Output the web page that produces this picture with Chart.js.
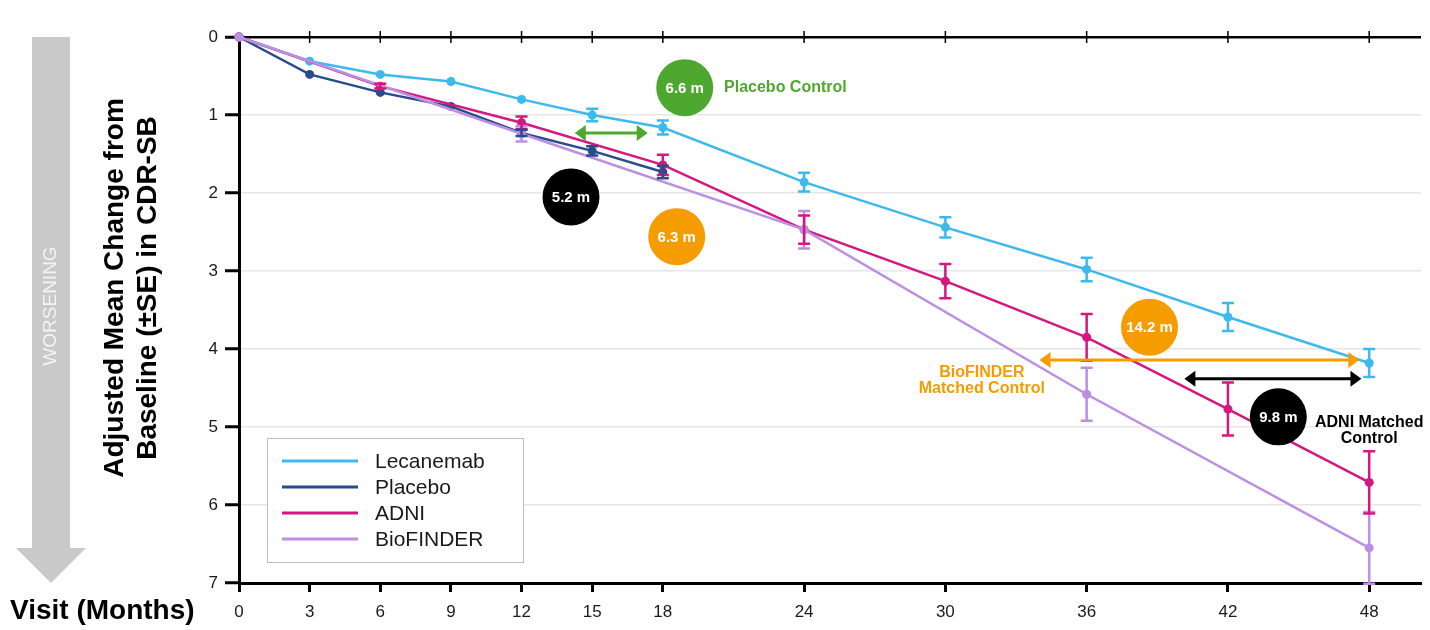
<!DOCTYPE html>
<html>
<head>
<title>CDR-SB change from baseline</title>
<script src="https://cdn.jsdelivr.net/npm/chart.js"></script>
<style>
  html, body { margin: 0; padding: 0; background: #fff; }
  #wrap { width: 1430px; height: 630px; }
</style>
</head>
<body>
<div id="wrap"><canvas id="c"></canvas></div>
<script>
// x ticks (months) and y ticks
var xTicks = [0, 3, 6, 9, 12, 15, 18, 24, 30, 36, 42, 48];
var yTicks = [0, 1, 2, 3, 4, 5, 6, 7];

// series: months, mean change, SE
var lecMonths = [0, 3, 6, 9, 12, 15, 18, 24, 30, 36, 42, 48];
var lecMean   = [0, 0.31, 0.48, 0.57, 0.80, 1.00, 1.16, 1.86, 2.44, 2.98, 3.59, 4.18];
var lecSE     = [0, 0, 0, 0, 0, 0.08, 0.09, 0.12, 0.13, 0.15, 0.18, 0.18];

var plbMonths = [0, 3, 6, 9, 12, 15, 18];
var plbMean   = [0, 0.48, 0.71, 0.89, 1.23, 1.46, 1.73];
var plbSE     = [0, 0, 0, 0, 0.04, 0.06, 0.08];

var adniMonths = [0, 6, 12, 18, 24, 30, 36, 42, 48];
var adniMean   = [0, 0.63, 1.10, 1.64, 2.47, 3.13, 3.85, 4.77, 5.71];
var adniSE     = [0, 0.03, 0.08, 0.13, 0.18, 0.22, 0.30, 0.34, 0.40];

var bioMonths = [0, 12, 24, 36, 48];
var bioMean   = [0, 1.24, 2.47, 4.58, 6.55];
var bioSE     = [0, 0.10, 0.24, 0.34, 0.46];

// delay annotations
var badgeLabels = ['6.6 m', '5.2 m', '6.3 m', '14.2 m', '9.8 m'];
var badgeMonth  = [18.93, 14.1, 18.59, 38.67, 44.14];
var badgeValue  = [0.65, 2.05, 2.56, 3.72, 4.87];

var FONT = 'Arial, "Liberation Sans", sans-serif';
var GREEN = '#4EA72E', ORANGE = '#F59C00', BLACK = '#000000';

function pts(xs, ys) {
  return xs.map(function (x, i) { return { x: x, y: ys[i] }; });
}

function series(label, xs, ys, se, color) {
  return {
    label: label,
    data: pts(xs, ys),
    se: se,
    borderColor: color,
    backgroundColor: color,
    borderWidth: 2.5,
    pointRadius: 4.5,
    pointHoverRadius: 4.5,
    pointBorderWidth: 0,
    tension: 0,
    clip: false
  };
}

var datasets = [
  series('BioFINDER', bioMonths, bioMean, bioSE, '#BB8FE3'),
  series('ADNI', adniMonths, adniMean, adniSE, '#D6177F'),
  series('Placebo', plbMonths, plbMean, plbSE, '#2A4B8C'),
  series('Lecanemab', lecMonths, lecMean, lecSE, '#3DB9EE')
];

function arrow(ctx, x1, x2, y, color) {
  var h = 11, w = 8;
  ctx.save();
  ctx.strokeStyle = color;
  ctx.fillStyle = color;
  ctx.lineWidth = 3;
  ctx.beginPath();
  ctx.moveTo(x1 + h - 2, y);
  ctx.lineTo(x2 - h + 2, y);
  ctx.stroke();
  ctx.beginPath();
  ctx.moveTo(x1, y); ctx.lineTo(x1 + h, y - w); ctx.lineTo(x1 + h, y + w); ctx.closePath();
  ctx.fill();
  ctx.beginPath();
  ctx.moveTo(x2, y); ctx.lineTo(x2 - h, y - w); ctx.lineTo(x2 - h, y + w); ctx.closePath();
  ctx.fill();
  ctx.restore();
}

function badge(ctx, cx, cy, text, color) {
  ctx.save();
  ctx.fillStyle = color;
  ctx.beginPath();
  ctx.arc(cx, cy, 28.5, 0, Math.PI * 2);
  ctx.fill();
  ctx.fillStyle = '#fff';
  ctx.font = 'bold 15px ' + FONT;
  ctx.textAlign = 'center';
  ctx.textBaseline = 'middle';
  ctx.fillText(text, cx, cy + 1);
  ctx.restore();
}

var extras = {
  id: 'extras',
  beforeDatasetsDraw: function (chart) {
    var ctx = chart.ctx, xs = chart.scales.x, ys = chart.scales.y;
    var y0 = ys.getPixelForValue(0);
    // little ticks across the zero line
    ctx.save();
    ctx.strokeStyle = '#000';
    ctx.lineWidth = 1.5;
    xTicks.forEach(function (v) {
      if (v === 0) return;
      var px = xs.getPixelForValue(v);
      ctx.beginPath();
      ctx.moveTo(px, y0 - 6);
      ctx.lineTo(px, y0 + 6);
      ctx.stroke();
    });
    ctx.restore();
  },
  afterDatasetsDraw: function (chart) {
    var ctx = chart.ctx, xs = chart.scales.x, ys = chart.scales.y;

    // error bars
    chart.data.datasets.forEach(function (ds) {
      ctx.save();
      ctx.strokeStyle = ds.borderColor;
      ctx.lineWidth = 2.5;
      ds.data.forEach(function (p, i) {
        var e = ds.se[i];
        if (!e) return;
        var px = xs.getPixelForValue(p.x);
        var top = ys.getPixelForValue(p.y - e);
        var bot = ys.getPixelForValue(p.y + e);
        ctx.beginPath();
        ctx.moveTo(px, top); ctx.lineTo(px, bot);
        ctx.moveTo(px - 6, top); ctx.lineTo(px + 6, top);
        ctx.moveTo(px - 6, bot); ctx.lineTo(px + 6, bot);
        ctx.stroke();
      });
      ctx.restore();
    });

    // arrows
    arrow(ctx, xs.getPixelForValue(14.26), xs.getPixelForValue(17.36), ys.getPixelForValue(1.23), GREEN);
    arrow(ctx, xs.getPixelForValue(34.0), xs.getPixelForValue(47.58), ys.getPixelForValue(4.14), ORANGE);
    arrow(ctx, xs.getPixelForValue(40.15), xs.getPixelForValue(47.67), ys.getPixelForValue(4.38), BLACK);

    // badges
    var colors = [GREEN, BLACK, ORANGE, ORANGE, BLACK];
    badgeLabels.forEach(function (t, i) {
      badge(ctx, xs.getPixelForValue(badgeMonth[i]), ys.getPixelForValue(badgeValue[i]), t, colors[i]);
    });

    // annotation texts
    ctx.save();
    ctx.font = 'bold 16px ' + FONT;
    ctx.textBaseline = 'middle';
    ctx.fillStyle = GREEN;
    ctx.textAlign = 'left';
    ctx.fillText('Placebo Control', xs.getPixelForValue(20.6), ys.getPixelForValue(0.65));
    ctx.textAlign = 'center';
    ctx.fillStyle = ORANGE;
    var bx = xs.getPixelForValue(31.55);
    ctx.fillText('BioFINDER', bx, ys.getPixelForValue(4.3));
    ctx.fillText('Matched Control', bx, ys.getPixelForValue(4.51));
    ctx.fillStyle = BLACK;
    var ax = xs.getPixelForValue(48);
    ctx.fillText('ADNI Matched', ax, ys.getPixelForValue(4.94));
    ctx.fillText('Control', ax, ys.getPixelForValue(5.15));
    ctx.restore();

    // legend box
    ctx.save();
    ctx.fillStyle = '#fff';
    ctx.fillRect(267, 438, 256, 124);
    ctx.strokeStyle = '#BDBDBD';
    ctx.lineWidth = 1;
    ctx.strokeRect(267.5, 438.5, 256, 124);
    var order = ['Lecanemab', 'Placebo', 'ADNI', 'BioFINDER'];
    ctx.font = '21px ' + FONT;
    ctx.textBaseline = 'middle';
    ctx.textAlign = 'left';
    order.forEach(function (name, i) {
      var ds = chart.data.datasets.find(function (d) { return d.label === name; });
      var ly = 461 + i * 26;
      ctx.strokeStyle = ds.borderColor;
      ctx.lineWidth = 3;
      ctx.beginPath();
      ctx.moveTo(282, ly); ctx.lineTo(358, ly);
      ctx.stroke();
      ctx.fillStyle = '#1a1a1a';
      ctx.fillText(name, 375, ly + 1);
    });
    ctx.restore();
  },
  afterDraw: function (chart) {
    var ctx = chart.ctx;
    // worsening arrow
    ctx.save();
    ctx.fillStyle = '#C9C9C9';
    ctx.fillRect(32, 37, 38, 512);
    ctx.beginPath();
    ctx.moveTo(16, 548); ctx.lineTo(86, 548); ctx.lineTo(51, 583); ctx.closePath();
    ctx.fill();
    ctx.translate(51, 306);
    ctx.rotate(-Math.PI / 2);
    ctx.fillStyle = '#F4F4F4';
    ctx.font = '19px ' + FONT;
    ctx.textAlign = 'center';
    ctx.textBaseline = 'middle';
    ctx.fillText('WORSENING', 0, 0);
    ctx.restore();

    // y axis title
    ctx.save();
    ctx.translate(131, 288);
    ctx.rotate(-Math.PI / 2);
    ctx.fillStyle = '#000';
    ctx.font = 'bold 28px ' + FONT;
    ctx.textAlign = 'center';
    ctx.textBaseline = 'middle';
    ctx.fillText('Adjusted Mean Change from', 0, -16);
    ctx.fillText('Baseline (\u00B1SE) in CDR-SB', 0, 17);
    ctx.restore();

    // x axis title
    ctx.save();
    ctx.fillStyle = '#000';
    ctx.font = 'bold 28px ' + FONT;
    ctx.textAlign = 'left';
    ctx.textBaseline = 'middle';
    ctx.fillText('Visit (Months)', 10, 611);
    ctx.restore();
  }
};

new Chart(document.getElementById('c'), {
  type: 'line',
  data: { datasets: datasets },
  options: {
    responsive: true,
    maintainAspectRatio: false,
    animation: false,
    layout: { padding: { top: 37, right: 9, left: 0, bottom: 0 } },
    plugins: {
      legend: { display: false },
      tooltip: { enabled: false }
    },
    scales: {
      x: {
        type: 'linear',
        min: 0,
        max: 50.2,
        afterBuildTicks: function (scale) {
          scale.ticks = xTicks.map(function (v) { return { value: v }; });
        },
        afterFit: function (scale) { scale.height = 47; },
        ticks: {
          font: { size: 17, family: FONT },
          color: '#1a1a1a',
          padding: 10,
          maxRotation: 0,
          autoSkip: false
        },
        grid: {
          display: true,
          drawOnChartArea: false,
          drawTicks: true,
          tickLength: 9,
          tickColor: '#000',
          tickWidth: 3,
          color: '#000'
        },
        border: { color: '#000', width: 3 }
      },
      y: {
        type: 'linear',
        reverse: true,
        min: 0,
        max: 7,
        afterBuildTicks: function (scale) {
          scale.ticks = yTicks.map(function (v) { return { value: v }; });
        },
        afterFit: function (scale) { scale.width = 239; },
        ticks: {
          font: { size: 17, family: FONT },
          color: '#1a1a1a',
          padding: 7
        },
        grid: {
          drawTicks: true,
          tickLength: 14,
          tickColor: '#000',
          tickWidth: 3,
          color: function (c) {
            if (c.tick && c.tick.value === 0) return '#000';
            if (c.tick && c.tick.value === 7) return 'rgba(0,0,0,0)';
            return '#E6E6E6';
          },
          lineWidth: function (c) {
            return (c.tick && c.tick.value === 0) ? 2.5 : 1.5;
          }
        },
        border: { color: '#000', width: 3 }
      }
    }
  },
  plugins: [extras]
});
</script>
</body>
</html>
